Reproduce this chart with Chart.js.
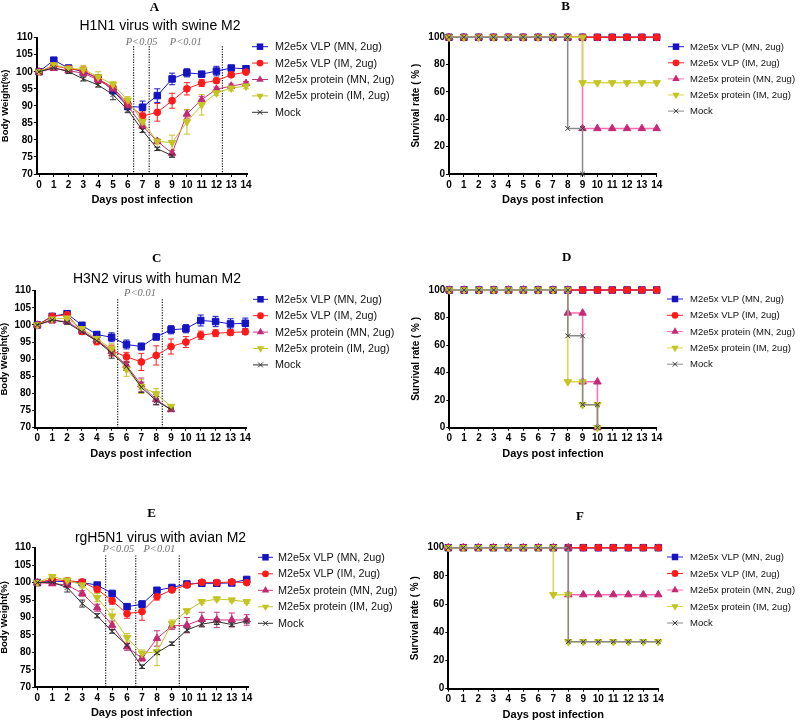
<!DOCTYPE html>
<html>
<head>
<meta charset="utf-8">
<script src="https://cdn.jsdelivr.net/npm/chart.js@4.4.1/dist/chart.umd.min.js"></script>
<style>
  html, body { margin: 0; padding: 0; background: #fff; }
  #wrap { position: relative; width: 800px; height: 721px; overflow: hidden; }
  canvas { position: absolute; }
</style>
</head>
<body>
<div id="wrap">
  <canvas id="pA"></canvas>
  <canvas id="pB"></canvas>
  <canvas id="pC"></canvas>
  <canvas id="pD"></canvas>
  <canvas id="pE"></canvas>
  <canvas id="pF"></canvas>
</div>
<script>
// ---- ticks / categories
const days = [0, 1, 2, 3, 4, 5, 6, 7, 8, 9, 10, 11, 12, 13, 14];
const weightTicks = [70, 75, 80, 85, 90, 95, 100, 105, 110];
const survivalTicks = [0, 20, 40, 60, 80, 100];
const groupNames = ['M2e5x VLP (MN, 2ug)', 'M2e5x VLP (IM, 2ug)', 'M2e5x protein (MN, 2ug)', 'M2e5x protein (IM, 2ug)', 'Mock'];

// ---- A: H1N1 body weight (mean, error)
const aVlpMn = [100, 103.4, 101.1, 100.0, 98.1, 94.5, 89.8, 89.6, 93.0, 97.9, 99.7, 99.3, 100.2, 101.1, 100.9];
const aVlpMnErr = [0, 0.6, 0.5, 0.8, 1.0, 1.0, 0.8, 1.8, 2.0, 1.7, 1.2, 0.6, 1.4, 0.6, 0.5];
const aVlpIm = [100, 101.8, 100.9, 100.4, 97.9, 95.4, 90.6, 87.0, 88.1, 91.5, 95.0, 96.7, 97.4, 99.1, 99.9];
const aVlpImErr = [0, 0.8, 0.6, 1.0, 1.2, 1.0, 1.2, 1.2, 2.6, 2.2, 1.8, 1.0, 0.7, 0.5, 0.4];
const aProtMn = [100, 101.0, 100.3, 99.6, 97.6, 95.0, 90.0, 84.1, 79.6, 76.1, 87.6, 91.8, 94.9, 95.8, 96.6];
const aProtMnErr = [0, 0.6, 0.5, 0.8, 1.0, 1.0, 1.0, 0.8, 0.6, 0.8, 1.2, 1.0, 0.6, 0.6, 0.5];
const aProtIm = [100, 102.0, 101.0, 100.7, 98.5, 96.3, 91.7, 85.4, 79.6, 79.2, 85.3, 90.3, 93.8, 95.2, 95.8];
const aProtImErr = [0, 0.6, 0.6, 1.2, 1.5, 0.8, 1.0, 0.8, 0.8, 2.2, 3.6, 3.0, 0.8, 0.8, 0.8];
const aMock = [100, 101.2, 100.0, 97.9, 96.1, 93.3, 88.8, 82.8, 77.4, 75.4];
const aMockErr = [0, 0.5, 0.5, 0.6, 0.6, 1.5, 0.8, 0.6, 0.5, 0.5];

// ---- C: H3N2 body weight
const cVlpMn = [100, 102.5, 103.3, 99.9, 97.2, 96.4, 94.3, 93.7, 96.5, 98.6, 98.9, 101.3, 101.0, 100.3, 100.5];
const cVlpMnErr = [0, 0.6, 0.6, 0.6, 0.8, 1.3, 1.3, 1.0, 0.8, 1.2, 1.2, 1.6, 1.5, 1.5, 1.5];
const cVlpIm = [100, 102.5, 103.0, 98.1, 95.2, 92.5, 90.7, 89.2, 91.1, 93.7, 95.0, 97.0, 97.6, 97.8, 98.0];
const cVlpImErr = [0, 0.6, 0.6, 0.8, 1.0, 1.6, 1.3, 2.5, 2.8, 2.2, 1.6, 1.2, 1.0, 0.8, 0.8];
const cProtMn = [100, 101.3, 101.0, 98.3, 95.7, 92.3, 88.2, 82.5, 78.2, 75.3];
const cProtMnErr = [0, 0.8, 0.6, 0.6, 0.8, 1.2, 1.0, 2.0, 1.5, 0.4];
const cProtIm = [100, 101.7, 102.0, 98.9, 96.0, 93.0, 87.0, 82.0, 79.9, 76.2];
const cProtImErr = [0, 0.6, 0.8, 0.8, 1.0, 1.5, 2.0, 2.0, 1.5, 0.5];
const cMock = [100, 101.5, 100.7, 98.0, 95.4, 91.8, 87.9, 81.8, 77.9, 75.3];
const cMockErr = [0, 0.6, 0.5, 0.6, 0.8, 1.5, 1.2, 1.5, 1.2, 0.4];

// ---- E: rgH5N1 body weight
const eVlpMn = [100, 100.4, 100.3, 100.0, 99.3, 96.9, 93.1, 93.8, 97.8, 98.6, 99.6, 99.8, 99.8, 99.9, 100.9];
const eVlpMnErr = [0, 0.4, 0.4, 0.4, 0.5, 0.6, 0.8, 1.0, 0.8, 0.5, 0.5, 0.5, 0.5, 0.5, 0.5];
const eVlpIm = [100, 100.9, 100.5, 100.2, 98.1, 94.8, 91.1, 91.7, 96.0, 97.9, 99.3, 100.1, 100.0, 100.2, 100.0];
const eVlpImErr = [0, 0.4, 0.4, 0.5, 0.8, 1.0, 1.3, 2.5, 1.0, 0.6, 0.5, 0.4, 0.4, 0.5, 0.4];
const eProtMn = [100, 99.7, 99.3, 96.9, 92.8, 87.8, 81.6, 78.3, 84.0, 87.6, 87.8, 89.5, 89.3, 89.3, 89.3];
const eProtMnErr = [0, 0.5, 0.6, 0.8, 1.0, 1.2, 1.0, 0.8, 2.2, 1.0, 2.2, 2.0, 2.2, 2.0, 1.5];
const eProtIm = [100, 101.7, 100.7, 99.3, 95.7, 90.4, 84.2, 79.7, 80.2, 88.3, 91.9, 94.5, 95.3, 95.0, 94.5];
const eProtImErr = [0, 0.5, 0.5, 0.8, 1.2, 2.0, 1.2, 1.0, 4.0, 1.0, 0.5, 0.5, 0.5, 0.5, 0.5];
const eMock = [100, 100.1, 98.6, 94.0, 90.5, 86.0, 82.0, 75.9, 79.9, 82.5, 86.4, 88.1, 88.8, 88.0, 89.0];
const eMockErr = [0, 0.4, 1.3, 1.0, 0.6, 0.5, 0.5, 0.5, 0.5, 0.5, 0.6, 0.8, 0.8, 0.6, 0.6];

// ---- survival curves (day, %) ; a drop day appears twice
const survAllDays = [0, 1, 2, 3, 4, 5, 6, 7, 8, 9, 10, 11, 12, 13, 14];
const survAll100 = [100, 100, 100, 100, 100, 100, 100, 100, 100, 100, 100, 100, 100, 100, 100];

const bProtMnX = [0, 1, 2, 3, 4, 5, 6, 7, 8, 9, 9, 10, 11, 12, 13, 14];
const bProtMnY = [100, 100, 100, 100, 100, 100, 100, 100, 100, 100, 33.3, 33.3, 33.3, 33.3, 33.3, 33.3];
const bProtImX = [0, 1, 2, 3, 4, 5, 6, 7, 8, 9, 9, 10, 11, 12, 13, 14];
const bProtImY = [100, 100, 100, 100, 100, 100, 100, 100, 100, 100, 66.7, 66.7, 66.7, 66.7, 66.7, 66.7];
const bMockX = [0, 1, 2, 3, 4, 5, 6, 7, 8, 8, 9, 9];
const bMockY = [100, 100, 100, 100, 100, 100, 100, 100, 100, 33.3, 33.3, 0];

const dProtMnX = [0, 1, 2, 3, 4, 5, 6, 7, 8, 8, 9, 9, 10, 10];
const dProtMnY = [100, 100, 100, 100, 100, 100, 100, 100, 100, 83.3, 83.3, 33.3, 33.3, 0];
const dProtImX = [0, 1, 2, 3, 4, 5, 6, 7, 8, 8, 9, 9, 10, 10];
const dProtImY = [100, 100, 100, 100, 100, 100, 100, 100, 100, 33.3, 33.3, 16.7, 16.7, 0];
const dMockX = [0, 1, 2, 3, 4, 5, 6, 7, 8, 8, 9, 9, 10, 10];
const dMockY = [100, 100, 100, 100, 100, 100, 100, 100, 100, 66.7, 66.7, 16.7, 16.7, 0];

const fProtMnX = [0, 1, 2, 3, 4, 5, 6, 7, 8, 8, 9, 10, 11, 12, 13, 14];
const fProtMnY = [100, 100, 100, 100, 100, 100, 100, 100, 100, 66.7, 66.7, 66.7, 66.7, 66.7, 66.7, 66.7];
const fProtImX = [0, 1, 2, 3, 4, 5, 6, 7, 7, 8, 8, 9, 10, 11, 12, 13, 14];
const fProtImY = [100, 100, 100, 100, 100, 100, 100, 100, 66.7, 66.7, 33.3, 33.3, 33.3, 33.3, 33.3, 33.3, 33.3];
const fMockX = [0, 1, 2, 3, 4, 5, 6, 7, 8, 8, 9, 10, 11, 12, 13, 14];
const fMockY = [100, 100, 100, 100, 100, 100, 100, 100, 100, 33.3, 33.3, 33.3, 33.3, 33.3, 33.3, 33.3];

// ---- styles
const markers = [
  { style: 'rect', r: 4.6, rot: 0 },
  { style: 'circle', r: 3.4, rot: 0 },
  { style: 'triangle', r: 4.3, rot: 0 },
  { style: 'triangle', r: 4.3, rot: 180 },
  { style: 'crossRot', r: 3.4, rot: 0 }
];
const weightLine = ['#1818c8', '#ff2020', '#c8347c', '#c4c42a', '#303030'];
const weightDot = ['#1414c4', '#ff1a1a', '#c42a74', '#c4c424', '#303030'];
const survLine = ['#2020d0', '#ff2a2a', '#ff6eb0', '#d8d850', '#8a8a8a'];
const survDot = ['#1414c4', '#ff1a1a', '#c42a74', '#c4c424', '#404040'];

const Y_W = 30, X_H = 30;

function xy(xs, ys) { return ys.map((y, i) => ({ x: xs[i], y: y })); }

function drawMarker(ctx, m, x, y, color) {
  ctx.save();
  ctx.fillStyle = color; ctx.strokeStyle = color; ctx.lineWidth = 1;
  ctx.beginPath();
  if (m.style === 'rect') {
    const s = m.r * Math.SQRT1_2;
    ctx.rect(x - s, y - s, 2 * s, 2 * s); ctx.fill();
  } else if (m.style === 'circle') {
    ctx.arc(x, y, m.r, 0, Math.PI * 2); ctx.fill();
  } else if (m.style === 'triangle') {
    let a = m.rot * Math.PI / 180;
    ctx.moveTo(x + Math.sin(a) * m.r, y - Math.cos(a) * m.r);
    a += 2 * Math.PI / 3;
    ctx.lineTo(x + Math.sin(a) * m.r, y - Math.cos(a) * m.r);
    a += 2 * Math.PI / 3;
    ctx.lineTo(x + Math.sin(a) * m.r, y - Math.cos(a) * m.r);
    ctx.closePath(); ctx.fill();
  } else {
    const s = m.r * Math.SQRT1_2;
    ctx.moveTo(x - s, y - s); ctx.lineTo(x + s, y + s);
    ctx.moveTo(x + s, y - s); ctx.lineTo(x - s, y + s);
    ctx.stroke();
  }
  ctx.restore();
}

// error bars, dotted lines, titles, legend
const panelDeco = {
  id: 'panelDeco',
  beforeDatasetsDraw(chart, args, o) {
    const ctx = chart.ctx, xs = chart.scales.x, ys = chart.scales.y;
    ctx.save();
    (o.vlines || []).forEach(v => {
      const px = xs.getPixelForValue(v);
      ctx.beginPath();
      ctx.setLineDash([1.2, 1.4]);
      ctx.strokeStyle = '#000'; ctx.lineWidth = 1.1;
      ctx.moveTo(px, ys.getPixelForValue(o.vlineTop));
      ctx.lineTo(px, ys.getPixelForValue(ys.min));
      ctx.stroke();
    });
    ctx.setLineDash([]);
    (o.errors || []).forEach((errs, i) => {
      if (!errs) return;
      const ds = chart.data.datasets[i];
      const meta = chart.getDatasetMeta(i);
      ctx.strokeStyle = ds.borderColor; ctx.lineWidth = 1;
      errs.forEach((e, j) => {
        if (!e || !meta.data[j]) return;
        const px = meta.data[j].x, v = ds.data[j].y;
        const y1 = ys.getPixelForValue(v + e), y2 = ys.getPixelForValue(v - e);
        ctx.beginPath();
        ctx.moveTo(px, y1); ctx.lineTo(px, y2);
        ctx.moveTo(px - 3, y1); ctx.lineTo(px + 3, y1);
        ctx.moveTo(px - 3, y2); ctx.lineTo(px + 3, y2);
        ctx.stroke();
      });
    });
    ctx.restore();
  },
  afterDraw(chart, args, o) {
    const ctx = chart.ctx, a = chart.chartArea, xs = chart.scales.x, ys = chart.scales.y;
    const ox = o.origin[0], oy = o.origin[1];
    ctx.save();
    ctx.fillStyle = '#000';
    ctx.textAlign = 'center'; ctx.textBaseline = 'middle';
    ctx.font = 'bold 13px "Liberation Serif"';
    ctx.fillText(o.letter, o.letterAt[0] - ox, o.letterAt[1] - oy);
    if (o.subtitle) {
      ctx.font = '14px "Liberation Sans"';
      ctx.fillText(o.subtitle, o.subtitleAt[0] - ox, o.subtitleAt[1] - oy);
    }
    ctx.font = 'bold 11px "Liberation Sans"';
    ctx.fillText('Days post infection', (a.left + a.right) / 2, a.bottom + 26);
    ctx.save();
    ctx.translate(a.left - o.yTitleGap, (a.top + a.bottom) / 2);
    ctx.rotate(-Math.PI / 2);
    ctx.font = o.yTitleFont;
    ctx.fillText(o.yTitle, 0, 0);
    ctx.restore();
    ctx.fillStyle = '#707070';
    ctx.font = 'italic 10.5px "Liberation Serif"';
    (o.pLabels || []).forEach(p => {
      ctx.fillText(p.text, xs.getPixelForValue(p.x), ys.getPixelForValue(p.y));
    });
    const L = o.legend;
    ctx.textAlign = 'left';
    ctx.font = L.font;
    chart.data.datasets.forEach((ds, i) => {
      const y = L.y0 + i * L.dy - oy;
      const x0 = L.x0 - ox, x1 = L.x1 - ox;
      ctx.strokeStyle = ds.borderColor; ctx.lineWidth = 1;
      ctx.beginPath(); ctx.moveTo(x0, y); ctx.lineTo(x1, y); ctx.stroke();
      drawMarker(ctx, markers[i], (x0 + x1) / 2, y, ds.pointBackgroundColor);
      ctx.fillStyle = '#111';
      ctx.fillText(ds.label, L.textX - ox, y + 0.5);
    });
    ctx.restore();
  }
};

function makePanel(id, rect, area, xRange, yRange, yTicks, datasets, deco) {
  const cv = document.getElementById(id);
  cv.width = rect.w; cv.height = rect.h;
  cv.style.left = rect.x + 'px'; cv.style.top = rect.y + 'px';
  const tickFont = { family: 'Liberation Sans', size: 10, weight: 'bold' };
  deco.origin = [rect.x, rect.y];
  return new Chart(cv, {
    type: 'line',
    data: { datasets: datasets },
    options: {
      responsive: false,
      animation: false,
      layout: {
        padding: {
          left: area.left - rect.x - Y_W,
          top: area.top - rect.y,
          right: rect.x + rect.w - area.right,
          bottom: rect.y + rect.h - area.bottom - X_H
        }
      },
      plugins: { legend: { display: false }, tooltip: { enabled: false }, panelDeco: deco },
      scales: {
        x: {
          type: 'linear', min: xRange[0], max: xRange[1],
          afterFit: s => { s.height = X_H; },
          afterBuildTicks: s => { s.ticks = days.map(v => ({ value: v })); },
          ticks: { font: tickFont, color: '#000', padding: 2, maxRotation: 0, autoSkip: false },
          grid: { drawOnChartArea: false, drawTicks: true, tickLength: 3, color: '#000' },
          border: { display: true, color: '#000', width: 2 }
        },
        y: {
          type: 'linear', min: yRange[0], max: yRange[1],
          afterFit: s => { s.width = Y_W; },
          afterBuildTicks: s => { s.ticks = yTicks.map(v => ({ value: v })); },
          ticks: { font: tickFont, color: '#000', padding: 1 },
          grid: { drawOnChartArea: false, drawTicks: true, tickLength: 3, color: '#000' },
          border: { display: true, color: '#000', width: 2 }
        }
      }
    },
    plugins: [panelDeco]
  });
}

function weightSets(series) {
  return series.map((vals, i) => ({
    label: groupNames[i],
    data: xy(days, vals),
    borderColor: weightLine[i],
    borderWidth: 1,
    pointStyle: markers[i].style,
    pointRadius: markers[i].r,
    pointRotation: markers[i].rot,
    pointBackgroundColor: weightDot[i],
    pointBorderColor: weightDot[i],
    pointBorderWidth: 1,
    order: 5 - i,
    clip: false
  }));
}

function survSets(pairs) {
  return pairs.map((p, i) => ({
    label: groupNames[i],
    data: xy(p[0], p[1]),
    borderColor: survLine[i],
    borderWidth: 1.5,
    pointStyle: markers[i].style,
    pointRadius: markers[i].r,
    pointRotation: markers[i].rot,
    pointBackgroundColor: survDot[i],
    pointBorderColor: survDot[i],
    pointBorderWidth: 1,
    order: 5 - i,
    clip: false
  }));
}

const weightTitle = { yTitle: 'Body Weight(%)', yTitleFont: 'bold 9.5px "Liberation Sans"', yTitleGap: 31 };
const survTitle = { yTitle: 'Survival rate ( % )', yTitleFont: 'bold 10px "Liberation Sans"', yTitleGap: 33 };

// A
makePanel('pA', { x: 0, y: 0, w: 420, h: 230 }, { left: 36.8, right: 247.5, top: 37.7, bottom: 174 },
  [-0.15, 14.1], [70, 110], weightTicks,
  weightSets([aVlpMn, aVlpIm, aProtMn, aProtIm, aMock]),
  Object.assign({
    letter: 'A', letterAt: [154.5, 7.5], subtitle: 'H1N1 virus with swine M2', subtitleAt: [160, 26],
    errors: [aVlpMnErr, aVlpImErr, aProtMnErr, aProtImErr, aMockErr],
    vlines: [6.4, 7.45, 12.4], vlineTop: 107.5,
    pLabels: [{ text: 'P<0.05', x: 6.94, y: 108.8 }, { text: 'P<0.01', x: 9.92, y: 108.8 }],
    legend: { x0: 252, x1: 268, textX: 275, y0: 46.7, dy: 16.4, font: '10.8px "Liberation Sans"' }
  }, weightTitle));

// B
makePanel('pB', { x: 400, y: 0, w: 400, h: 230 }, { left: 449, right: 656.7, top: 37.3, bottom: 174 },
  [0, 14], [0, 100], survivalTicks,
  survSets([[survAllDays, survAll100], [survAllDays, survAll100], [bProtMnX, bProtMnY], [bProtImX, bProtImY], [bMockX, bMockY]]),
  Object.assign({
    letter: 'B', letterAt: [565.7, 7],
    legend: { x0: 668, x1: 684, textX: 690, y0: 46.7, dy: 16.1, font: '9.5px "Liberation Sans"' }
  }, survTitle));

// C
makePanel('pC', { x: 0, y: 230, w: 420, h: 240 }, { left: 35.1, right: 246.8, top: 290.7, bottom: 427.7 },
  [-0.15, 14.1], [70, 110], weightTicks,
  weightSets([cVlpMn, cVlpIm, cProtMn, cProtIm, cMock]),
  Object.assign({
    letter: 'C', letterAt: [156.7, 258.3], subtitle: 'H3N2 virus with human M2', subtitleAt: [157, 279.3],
    errors: [cVlpMnErr, cVlpImErr, cProtMnErr, cProtImErr, cMockErr],
    vlines: [5.41, 8.41], vlineTop: 107.5,
    pLabels: [{ text: 'P<0.01', x: 6.91, y: 109.2 }],
    legend: { x0: 253, x1: 268, textX: 275, y0: 299.3, dy: 16.4, font: '10.8px "Liberation Sans"' }
  }, weightTitle));

// D
makePanel('pD', { x: 400, y: 230, w: 400, h: 240 }, { left: 449.3, right: 656.7, top: 290, bottom: 427.7 },
  [0, 14], [0, 100], survivalTicks,
  survSets([[survAllDays, survAll100], [survAllDays, survAll100], [dProtMnX, dProtMnY], [dProtImX, dProtImY], [dMockX, dMockY]]),
  Object.assign({
    letter: 'D', letterAt: [566.7, 257.3],
    legend: { x0: 667, x1: 683, textX: 690, y0: 299, dy: 16.3, font: '9.5px "Liberation Sans"' }
  }, survTitle));

// E
makePanel('pE', { x: 0, y: 470, w: 420, h: 251 }, { left: 35.1, right: 248.2, top: 547.7, bottom: 687.3 },
  [-0.15, 14.1], [70, 110], weightTicks,
  weightSets([eVlpMn, eVlpIm, eProtMn, eProtIm, eMock]),
  Object.assign({
    letter: 'E', letterAt: [151.7, 514], subtitle: 'rgH5N1 virus with avian M2', subtitleAt: [160.5, 537.7],
    errors: [eVlpMnErr, eVlpImErr, eProtMnErr, eProtImErr, eMockErr],
    vlines: [4.57, 6.58, 9.49], vlineTop: 107.8,
    pLabels: [{ text: 'P<0.05', x: 5.42, y: 109.5 }, { text: 'P<0.01', x: 8.16, y: 109.5 }],
    legend: { x0: 258, x1: 273, textX: 278, y0: 557.3, dy: 16.5, font: '10.8px "Liberation Sans"' }
  }, weightTitle));

// F
makePanel('pF', { x: 400, y: 470, w: 400, h: 251 }, { left: 448.3, right: 658.3, top: 547.7, bottom: 688.7 },
  [0, 14], [0, 100], survivalTicks,
  survSets([[survAllDays, survAll100], [survAllDays, survAll100], [fProtMnX, fProtMnY], [fProtImX, fProtImY], [fMockX, fMockY]]),
  Object.assign({
    letter: 'F', letterAt: [580, 516.7],
    legend: { x0: 667, x1: 683, textX: 690, y0: 557, dy: 16.5, font: '9.5px "Liberation Sans"' }
  }, survTitle));
</script>
</body>
</html>
